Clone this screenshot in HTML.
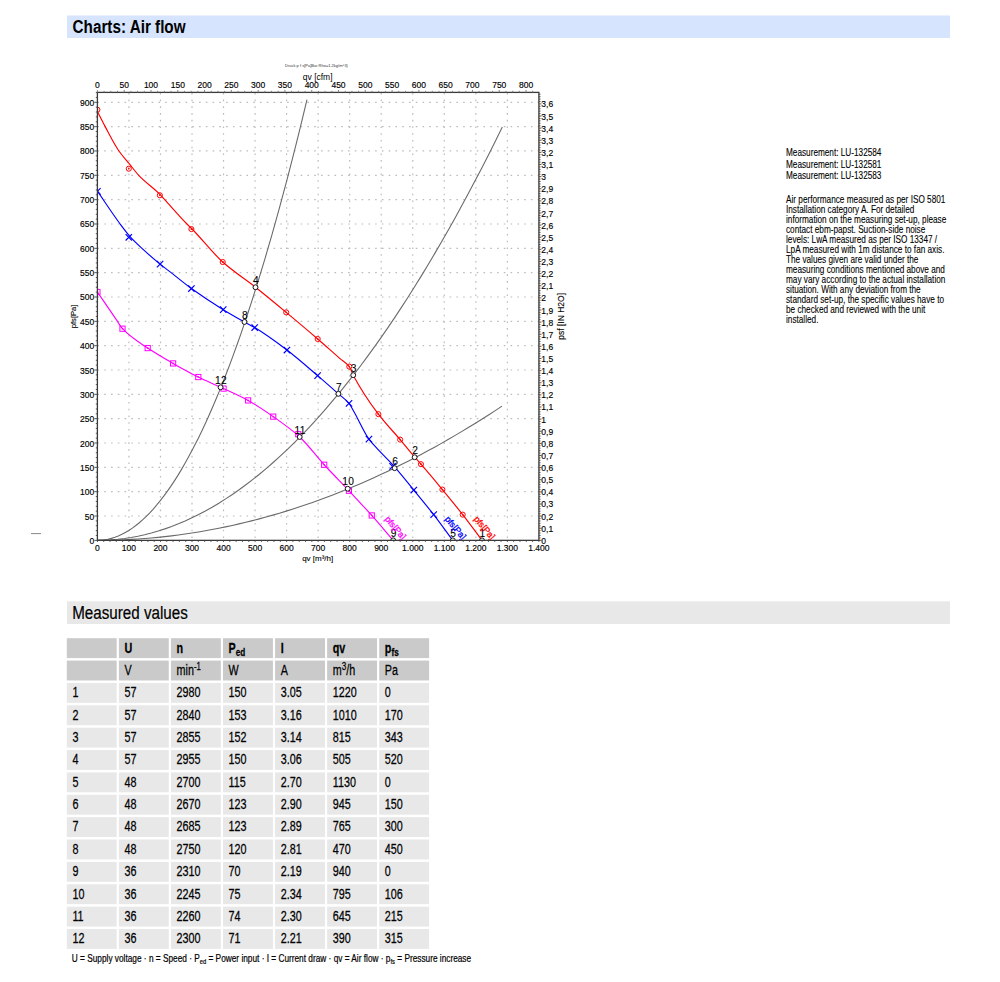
<!DOCTYPE html><html><head><meta charset="utf-8"><style>html,body{margin:0;padding:0;background:#fff;width:1000px;height:982px;overflow:hidden}svg{display:block}text{font-family:"Liberation Sans",sans-serif}</style></head><body>
<svg width="1000" height="982" viewBox="0 0 1000 982">
<rect x="67" y="15.5" width="883" height="22.5" fill="#d6e4fd"/>
<text transform="translate(72.6,32.8) scale(0.803,1)" font-size="19" font-weight="bold" fill="#000">Charts: Air flow</text>
<defs><clipPath id="pc"><rect x="97.4" y="92.4" width="441.5" height="447.95"/></clipPath></defs>
<g stroke="#bcbcbc" stroke-width="1.2" stroke-dasharray="1.6 5.172"><line x1="97.48" y1="516.01" x2="538.90" y2="516.01"/><line x1="97.48" y1="491.68" x2="538.90" y2="491.68"/><line x1="97.48" y1="467.34" x2="538.90" y2="467.34"/><line x1="97.48" y1="443.01" x2="538.90" y2="443.01"/><line x1="97.48" y1="418.67" x2="538.90" y2="418.67"/><line x1="97.48" y1="394.33" x2="538.90" y2="394.33"/><line x1="97.48" y1="370.00" x2="538.90" y2="370.00"/><line x1="97.48" y1="345.66" x2="538.90" y2="345.66"/><line x1="97.48" y1="321.33" x2="538.90" y2="321.33"/><line x1="97.48" y1="296.99" x2="538.90" y2="296.99"/><line x1="97.48" y1="272.65" x2="538.90" y2="272.65"/><line x1="97.48" y1="248.32" x2="538.90" y2="248.32"/><line x1="97.48" y1="223.98" x2="538.90" y2="223.98"/><line x1="97.48" y1="199.64" x2="538.90" y2="199.64"/><line x1="97.48" y1="175.31" x2="538.90" y2="175.31"/><line x1="97.48" y1="150.97" x2="538.90" y2="150.97"/><line x1="97.48" y1="126.64" x2="538.90" y2="126.64"/><line x1="97.48" y1="102.30" x2="538.90" y2="102.30"/></g>
<g stroke="#bcbcbc" stroke-width="1.2" stroke-dasharray="1.6 5.12"><line x1="128.94" y1="92.9" x2="128.94" y2="540.35"/><line x1="160.47" y1="92.9" x2="160.47" y2="540.35"/><line x1="192.01" y1="92.9" x2="192.01" y2="540.35"/><line x1="223.54" y1="92.9" x2="223.54" y2="540.35"/><line x1="255.08" y1="92.9" x2="255.08" y2="540.35"/><line x1="286.61" y1="92.9" x2="286.61" y2="540.35"/><line x1="318.15" y1="92.9" x2="318.15" y2="540.35"/><line x1="349.69" y1="92.9" x2="349.69" y2="540.35"/><line x1="381.22" y1="92.9" x2="381.22" y2="540.35"/><line x1="412.76" y1="92.9" x2="412.76" y2="540.35"/><line x1="444.29" y1="92.9" x2="444.29" y2="540.35"/><line x1="475.83" y1="92.9" x2="475.83" y2="540.35"/><line x1="507.36" y1="92.9" x2="507.36" y2="540.35"/></g>
<g fill="none" stroke="#6a6a6a" stroke-width="1.1" clip-path="url(#pc)">
<path d="M97.40,540.35 L100.89,540.23 L104.39,539.86 L107.88,539.25 L111.37,538.39 L114.87,537.29 L118.36,535.94 L121.85,534.35 L125.34,532.52 L128.84,530.43 L132.33,528.11 L135.82,525.54 L139.32,522.72 L142.81,519.66 L146.30,516.36 L149.80,512.81 L153.29,509.01 L156.78,504.97 L160.28,500.69 L163.77,496.16 L167.26,491.38 L170.76,486.36 L174.25,481.10 L177.74,475.59 L181.23,469.84 L184.73,463.84 L188.22,457.59 L191.71,451.11 L195.21,444.37 L198.70,437.39 L202.19,430.17 L205.69,422.70 L209.18,414.99 L212.67,407.03 L216.17,398.83 L219.66,390.39 L223.15,381.69 L226.64,372.76 L230.14,363.58 L233.63,354.15 L237.12,344.48 L240.62,334.56 L244.11,324.40 L247.60,313.99 L251.10,303.34 L254.59,292.45 L258.08,281.31 L261.58,269.92 L265.07,258.29 L268.56,246.42 L272.06,234.30 L275.55,221.93 L279.04,209.33 L282.53,196.47 L286.03,183.37 L289.52,170.03 L293.01,156.44 L296.51,142.61 L300.00,128.53 L303.49,114.21 L306.99,99.64"/>
<path d="M97.40,540.35 L104.15,540.24 L110.90,539.89 L117.65,539.32 L124.39,538.51 L131.14,537.48 L137.89,536.22 L144.64,534.73 L151.39,533.00 L158.14,531.05 L164.89,528.87 L171.64,526.46 L178.38,523.82 L185.13,520.95 L191.88,517.85 L198.63,514.52 L205.38,510.96 L212.13,507.17 L218.88,503.16 L225.62,498.91 L232.37,494.43 L239.12,489.73 L245.87,484.79 L252.62,479.62 L259.37,474.23 L266.12,468.60 L272.86,462.75 L279.61,456.67 L286.36,450.35 L293.11,443.81 L299.86,437.04 L306.61,430.03 L313.36,422.80 L320.11,415.34 L326.85,407.65 L333.60,399.73 L340.35,391.58 L347.10,383.20 L353.85,374.59 L360.60,365.75 L367.35,356.68 L374.09,347.38 L380.84,337.85 L387.59,328.10 L394.34,318.11 L401.09,307.89 L407.84,297.45 L414.59,286.77 L421.33,275.87 L428.08,264.73 L434.83,253.37 L441.58,241.77 L448.33,229.95 L455.08,217.90 L461.83,205.61 L468.58,193.10 L475.32,180.36 L482.07,167.39 L488.82,154.19 L495.57,140.76 L502.32,127.09"/>
<path d="M97.40,540.35 L104.14,540.31 L110.89,540.20 L117.63,540.01 L124.37,539.75 L131.12,539.42 L137.86,539.01 L144.60,538.52 L151.35,537.96 L158.09,537.33 L164.83,536.62 L171.58,535.84 L178.32,534.98 L185.06,534.05 L191.81,533.04 L198.55,531.96 L205.29,530.81 L212.04,529.58 L218.78,528.27 L225.52,526.89 L232.27,525.44 L239.01,523.91 L245.75,522.31 L252.50,520.63 L259.24,518.88 L265.98,517.05 L272.73,515.15 L279.47,513.17 L286.21,511.12 L292.96,509.00 L299.70,506.80 L306.44,504.53 L313.19,502.18 L319.93,499.75 L326.68,497.26 L333.42,494.69 L340.16,492.04 L346.91,489.32 L353.65,486.52 L360.39,483.65 L367.14,480.71 L373.88,477.69 L380.62,474.59 L387.37,471.42 L394.11,468.18 L400.85,464.86 L407.60,461.47 L414.34,458.00 L421.08,454.46 L427.83,450.85 L434.57,447.16 L441.31,443.39 L448.06,439.55 L454.80,435.64 L461.54,431.65 L468.29,427.59 L475.03,423.45 L481.77,419.24 L488.52,414.95 L495.26,410.59 L502.00,406.15"/>
</g>
<g clip-path="url(#pc)" fill="none" stroke-width="1.15">
<path d="M97.40,111.55 C100.00,116.58 102.59,121.81 105.19,126.64 C109.76,135.14 114.33,144.37 118.91,150.97 C122.46,156.10 126.01,159.75 129.57,164.11 C132.61,167.86 135.66,172.08 138.71,175.31 C145.75,182.76 152.80,187.19 159.84,194.29 C161.40,195.86 162.95,197.70 164.51,199.40 C171.99,207.60 179.48,216.35 186.96,223.98 C188.51,225.56 190.05,226.94 191.60,228.51 C201.97,239.01 212.35,252.71 222.72,262.04 C233.64,271.86 244.57,278.59 255.49,287.25 C265.73,295.37 275.97,303.86 286.20,312.37 C296.71,321.10 307.21,329.93 317.71,338.99 C325.13,345.39 332.55,352.12 339.97,358.56 C343.08,361.26 346.20,362.50 349.31,366.59 C350.61,368.30 351.91,372.69 353.22,375.16 C361.61,391.04 369.99,403.00 378.38,414.14 C385.64,423.78 392.89,430.99 400.14,439.60 C405.03,445.40 409.92,451.54 414.81,457.22 C416.86,459.60 418.91,461.82 420.96,464.18 C428.10,472.41 435.25,480.89 442.40,489.54 C449.17,497.72 455.94,505.97 462.71,514.65 C469.14,522.90 475.58,531.78 482.01,540.35" stroke="#ff0000"/>
<path d="M97.40,191.13 C104.97,202.08 112.54,213.86 120.11,223.98 C123.57,228.62 127.04,233.28 130.51,237.12 C134.34,241.36 138.17,244.87 141.99,248.41 C148.03,254.01 154.06,259.22 160.09,264.14 C163.76,267.12 167.43,269.80 171.10,272.65 C177.86,277.91 184.62,283.64 191.38,288.52 C201.99,296.19 212.61,303.11 223.23,309.64 C230.31,314.01 237.40,317.98 244.48,321.96 C247.89,323.87 251.29,325.51 254.70,327.56 C265.44,334.01 276.19,341.87 286.93,350.04 C297.16,357.82 307.39,366.89 317.61,375.64 C324.54,381.57 331.47,387.69 338.40,393.85 C341.93,396.99 345.46,399.09 348.99,403.39 C350.38,405.07 351.77,407.87 353.15,410.25 C358.41,419.28 363.67,431.86 368.92,439.11 C372.08,443.46 375.23,446.48 378.38,449.92 C383.27,455.25 388.16,459.68 393.05,465.10 C399.96,472.77 406.88,481.64 413.80,490.07 C420.43,498.16 427.06,506.09 433.70,514.65 C440.04,522.84 446.37,531.78 452.71,540.35" stroke="#0000ff"/>
<path d="M97.40,291.98 C103.71,301.21 110.01,310.43 116.32,319.67 C118.38,322.69 120.44,326.51 122.50,328.72 C130.90,337.76 139.30,342.41 147.70,348.09 C156.16,353.82 164.62,358.60 173.09,363.43 C181.50,368.22 189.90,372.89 198.31,377.05 C205.74,380.73 213.16,383.80 220.58,387.28 C229.76,391.57 238.93,395.37 248.11,400.42 C256.48,405.02 264.84,410.76 273.21,416.63 C282.04,422.82 290.87,428.86 299.70,436.97 C307.87,444.47 316.04,455.84 324.20,464.76 C332.44,473.75 340.67,481.98 348.90,490.75 C356.52,498.88 364.14,506.90 371.76,515.43 C378.91,523.43 386.06,532.04 393.21,540.35" stroke="#ff00ff"/>
<circle cx="97.40" cy="109.70" r="2.55" stroke="#ff0000" stroke-width="1" fill="none"/><circle cx="97.40" cy="109.70" r="0.85" fill="#ff0000" stroke="none"/><circle cx="128.81" cy="168.69" r="2.55" stroke="#ff0000" stroke-width="1" fill="none"/><circle cx="128.81" cy="168.69" r="0.85" fill="#ff0000" stroke="none"/><circle cx="159.84" cy="195.26" r="2.55" stroke="#ff0000" stroke-width="1" fill="none"/><circle cx="159.84" cy="195.26" r="0.85" fill="#ff0000" stroke="none"/><circle cx="191.38" cy="229.09" r="2.55" stroke="#ff0000" stroke-width="1" fill="none"/><circle cx="191.38" cy="229.09" r="0.85" fill="#ff0000" stroke="none"/><circle cx="222.72" cy="262.04" r="2.55" stroke="#ff0000" stroke-width="1" fill="none"/><circle cx="222.72" cy="262.04" r="0.85" fill="#ff0000" stroke="none"/><circle cx="286.20" cy="312.37" r="2.55" stroke="#ff0000" stroke-width="1" fill="none"/><circle cx="286.20" cy="312.37" r="0.85" fill="#ff0000" stroke="none"/><circle cx="317.71" cy="338.99" r="2.55" stroke="#ff0000" stroke-width="1" fill="none"/><circle cx="317.71" cy="338.99" r="0.85" fill="#ff0000" stroke="none"/><circle cx="349.31" cy="366.59" r="2.55" stroke="#ff0000" stroke-width="1" fill="none"/><circle cx="349.31" cy="366.59" r="0.85" fill="#ff0000" stroke="none"/><circle cx="378.38" cy="414.14" r="2.55" stroke="#ff0000" stroke-width="1" fill="none"/><circle cx="378.38" cy="414.14" r="0.85" fill="#ff0000" stroke="none"/><circle cx="400.14" cy="439.60" r="2.55" stroke="#ff0000" stroke-width="1" fill="none"/><circle cx="400.14" cy="439.60" r="0.85" fill="#ff0000" stroke="none"/><circle cx="420.96" cy="464.18" r="2.55" stroke="#ff0000" stroke-width="1" fill="none"/><circle cx="420.96" cy="464.18" r="0.85" fill="#ff0000" stroke="none"/><circle cx="442.40" cy="489.54" r="2.55" stroke="#ff0000" stroke-width="1" fill="none"/><circle cx="442.40" cy="489.54" r="0.85" fill="#ff0000" stroke="none"/><circle cx="462.71" cy="514.65" r="2.55" stroke="#ff0000" stroke-width="1" fill="none"/><circle cx="462.71" cy="514.65" r="0.85" fill="#ff0000" stroke="none"/><path d="M94.20,194.57L100.60,188.17M94.20,188.17L100.60,194.57" stroke="#0000ff" stroke-width="1.2"/><path d="M125.61,240.47L132.01,234.07M125.61,234.07L132.01,240.47" stroke="#0000ff" stroke-width="1.2"/><path d="M156.89,267.34L163.29,260.94M156.89,260.94L163.29,267.34" stroke="#0000ff" stroke-width="1.2"/><path d="M188.18,291.72L194.58,285.32M188.18,285.32L194.58,291.72" stroke="#0000ff" stroke-width="1.2"/><path d="M220.03,312.84L226.43,306.44M220.03,306.44L226.43,312.84" stroke="#0000ff" stroke-width="1.2"/><path d="M251.50,330.76L257.90,324.36M251.50,324.36L257.90,330.76" stroke="#0000ff" stroke-width="1.2"/><path d="M283.73,353.24L290.13,346.84M283.73,346.84L290.13,353.24" stroke="#0000ff" stroke-width="1.2"/><path d="M314.41,378.84L320.81,372.44M314.41,372.44L320.81,378.84" stroke="#0000ff" stroke-width="1.2"/><path d="M345.79,406.59L352.19,400.19M345.79,400.19L352.19,406.59" stroke="#0000ff" stroke-width="1.2"/><path d="M365.72,442.31L372.12,435.91M365.72,435.91L372.12,442.31" stroke="#0000ff" stroke-width="1.2"/><path d="M389.37,469.57L395.77,463.17M389.37,463.17L395.77,469.57" stroke="#0000ff" stroke-width="1.2"/><path d="M410.60,493.27L417.00,486.87M410.60,486.87L417.00,493.27" stroke="#0000ff" stroke-width="1.2"/><path d="M430.50,517.85L436.90,511.45M430.50,511.45L436.90,517.85" stroke="#0000ff" stroke-width="1.2"/><rect x="94.80" y="289.38" width="5.2" height="5.2" stroke="#ff00ff" stroke-width="1" fill="none"/><circle cx="97.40" cy="291.98" r="0.85" fill="#ff00ff" stroke="none"/><rect x="119.90" y="326.12" width="5.2" height="5.2" stroke="#ff00ff" stroke-width="1" fill="none"/><circle cx="122.50" cy="328.72" r="0.85" fill="#ff00ff" stroke="none"/><rect x="145.10" y="345.49" width="5.2" height="5.2" stroke="#ff00ff" stroke-width="1" fill="none"/><circle cx="147.70" cy="348.09" r="0.85" fill="#ff00ff" stroke="none"/><rect x="170.49" y="360.83" width="5.2" height="5.2" stroke="#ff00ff" stroke-width="1" fill="none"/><circle cx="173.09" cy="363.43" r="0.85" fill="#ff00ff" stroke="none"/><rect x="195.71" y="374.45" width="5.2" height="5.2" stroke="#ff00ff" stroke-width="1" fill="none"/><circle cx="198.31" cy="377.05" r="0.85" fill="#ff00ff" stroke="none"/><rect x="220.94" y="385.99" width="5.2" height="5.2" stroke="#ff00ff" stroke-width="1" fill="none"/><circle cx="223.54" cy="388.59" r="0.85" fill="#ff00ff" stroke="none"/><rect x="245.51" y="397.82" width="5.2" height="5.2" stroke="#ff00ff" stroke-width="1" fill="none"/><circle cx="248.11" cy="400.42" r="0.85" fill="#ff00ff" stroke="none"/><rect x="270.61" y="414.03" width="5.2" height="5.2" stroke="#ff00ff" stroke-width="1" fill="none"/><circle cx="273.21" cy="416.63" r="0.85" fill="#ff00ff" stroke="none"/><rect x="295.68" y="431.64" width="5.2" height="5.2" stroke="#ff00ff" stroke-width="1" fill="none"/><circle cx="298.28" cy="434.24" r="0.85" fill="#ff00ff" stroke="none"/><rect x="321.60" y="462.16" width="5.2" height="5.2" stroke="#ff00ff" stroke-width="1" fill="none"/><circle cx="324.20" cy="464.76" r="0.85" fill="#ff00ff" stroke="none"/><rect x="346.30" y="488.15" width="5.2" height="5.2" stroke="#ff00ff" stroke-width="1" fill="none"/><circle cx="348.90" cy="490.75" r="0.85" fill="#ff00ff" stroke="none"/><rect x="369.16" y="512.83" width="5.2" height="5.2" stroke="#ff00ff" stroke-width="1" fill="none"/><circle cx="371.76" cy="515.43" r="0.85" fill="#ff00ff" stroke="none"/>
<circle cx="482.01" cy="540.35" r="2.45" stroke="#111" stroke-width="1.0" fill="#fff"/>
<circle cx="414.65" cy="457.22" r="2.45" stroke="#111" stroke-width="1.0" fill="#fff"/>
<circle cx="353.22" cy="375.16" r="2.45" stroke="#111" stroke-width="1.0" fill="#fff"/>
<circle cx="255.49" cy="287.25" r="2.45" stroke="#111" stroke-width="1.0" fill="#fff"/>
<circle cx="452.81" cy="540.35" r="2.45" stroke="#111" stroke-width="1.0" fill="#fff"/>
<circle cx="394.62" cy="468.17" r="2.45" stroke="#111" stroke-width="1.0" fill="#fff"/>
<circle cx="338.40" cy="393.85" r="2.45" stroke="#111" stroke-width="1.0" fill="#fff"/>
<circle cx="244.48" cy="321.96" r="2.45" stroke="#111" stroke-width="1.0" fill="#fff"/>
<circle cx="393.21" cy="540.35" r="2.45" stroke="#111" stroke-width="1.0" fill="#fff"/>
<circle cx="347.70" cy="488.76" r="2.45" stroke="#111" stroke-width="1.0" fill="#fff"/>
<circle cx="299.70" cy="436.97" r="2.45" stroke="#111" stroke-width="1.0" fill="#fff"/>
<circle cx="220.58" cy="387.28" r="2.45" stroke="#111" stroke-width="1.0" fill="#fff"/>
</g>
<text x="482.51" y="537.05" font-size="10.2" letter-spacing="0.3" text-anchor="middle" fill="#000" stroke="#000" stroke-width="0.1">1</text>
<text x="415.15" y="453.92" font-size="10.2" letter-spacing="0.3" text-anchor="middle" fill="#000" stroke="#000" stroke-width="0.1">2</text>
<text x="353.72" y="371.86" font-size="10.2" letter-spacing="0.3" text-anchor="middle" fill="#000" stroke="#000" stroke-width="0.1">3</text>
<text x="255.99" y="283.95" font-size="10.2" letter-spacing="0.3" text-anchor="middle" fill="#000" stroke="#000" stroke-width="0.1">4</text>
<text x="453.31" y="537.05" font-size="10.2" letter-spacing="0.3" text-anchor="middle" fill="#000" stroke="#000" stroke-width="0.1">5</text>
<text x="395.12" y="464.87" font-size="10.2" letter-spacing="0.3" text-anchor="middle" fill="#000" stroke="#000" stroke-width="0.1">6</text>
<text x="338.90" y="390.55" font-size="10.2" letter-spacing="0.3" text-anchor="middle" fill="#000" stroke="#000" stroke-width="0.1">7</text>
<text x="244.98" y="318.66" font-size="10.2" letter-spacing="0.3" text-anchor="middle" fill="#000" stroke="#000" stroke-width="0.1">8</text>
<text x="393.71" y="537.05" font-size="10.2" letter-spacing="0.3" text-anchor="middle" fill="#000" stroke="#000" stroke-width="0.1">9</text>
<text x="348.20" y="485.46" font-size="10.2" letter-spacing="0.3" text-anchor="middle" fill="#000" stroke="#000" stroke-width="0.1">10</text>
<text x="300.20" y="433.67" font-size="10.2" letter-spacing="0.3" text-anchor="middle" fill="#000" stroke="#000" stroke-width="0.1">11</text>
<text x="221.08" y="383.98" font-size="10.2" letter-spacing="0.3" text-anchor="middle" fill="#000" stroke="#000" stroke-width="0.1">12</text>
<text transform="translate(484.5,527.8) rotate(50)" font-size="8.8" text-anchor="middle" dominant-baseline="central" fill="#ff0000" stroke="#ff0000" stroke-width="0.3">pfs[Pa]</text>
<text transform="translate(455.5,527.8) rotate(50)" font-size="8.8" text-anchor="middle" dominant-baseline="central" fill="#0000ff" stroke="#0000ff" stroke-width="0.3">pfs[Pa]</text>
<text transform="translate(395.5,527.8) rotate(50)" font-size="8.8" text-anchor="middle" dominant-baseline="central" fill="#ff00ff" stroke="#ff00ff" stroke-width="0.3">pfs[Pa]</text>
<g stroke="#3a3a3a" stroke-width="1.3" fill="none"><rect x="97.4" y="92.4" width="441.50" height="447.95"/></g>
<path d="M94.40,540.35H97.4M95.80,535.48H97.4M95.80,530.62H97.4M95.80,525.75H97.4M95.80,520.88H97.4M94.40,516.01H97.4M95.80,511.15H97.4M95.80,506.28H97.4M95.80,501.41H97.4M95.80,496.55H97.4M94.40,491.68H97.4M95.80,486.81H97.4M95.80,481.94H97.4M95.80,477.08H97.4M95.80,472.21H97.4M94.40,467.34H97.4M95.80,462.47H97.4M95.80,457.61H97.4M95.80,452.74H97.4M95.80,447.87H97.4M94.40,443.01H97.4M95.80,438.14H97.4M95.80,433.27H97.4M95.80,428.40H97.4M95.80,423.54H97.4M94.40,418.67H97.4M95.80,413.80H97.4M95.80,408.94H97.4M95.80,404.07H97.4M95.80,399.20H97.4M94.40,394.33H97.4M95.80,389.47H97.4M95.80,384.60H97.4M95.80,379.73H97.4M95.80,374.86H97.4M94.40,370.00H97.4M95.80,365.13H97.4M95.80,360.26H97.4M95.80,355.40H97.4M95.80,350.53H97.4M94.40,345.66H97.4M95.80,340.79H97.4M95.80,335.93H97.4M95.80,331.06H97.4M95.80,326.19H97.4M94.40,321.33H97.4M95.80,316.46H97.4M95.80,311.59H97.4M95.80,306.72H97.4M95.80,301.86H97.4M94.40,296.99H97.4M95.80,292.12H97.4M95.80,287.25H97.4M95.80,282.39H97.4M95.80,277.52H97.4M94.40,272.65H97.4M95.80,267.79H97.4M95.80,262.92H97.4M95.80,258.05H97.4M95.80,253.18H97.4M94.40,248.32H97.4M95.80,243.45H97.4M95.80,238.58H97.4M95.80,233.72H97.4M95.80,228.85H97.4M94.40,223.98H97.4M95.80,219.11H97.4M95.80,214.25H97.4M95.80,209.38H97.4M95.80,204.51H97.4M94.40,199.64H97.4M95.80,194.78H97.4M95.80,189.91H97.4M95.80,185.04H97.4M95.80,180.18H97.4M94.40,175.31H97.4M95.80,170.44H97.4M95.80,165.57H97.4M95.80,160.71H97.4M95.80,155.84H97.4M94.40,150.97H97.4M95.80,146.11H97.4M95.80,141.24H97.4M95.80,136.37H97.4M95.80,131.50H97.4M94.40,126.64H97.4M95.80,121.77H97.4M95.80,116.90H97.4M95.80,112.03H97.4M95.80,107.17H97.4M94.40,102.30H97.4M95.80,97.43H97.4M95.80,92.57H97.4M97.40,540.35V541.95M103.71,540.35V541.95M110.01,540.35V541.95M116.32,540.35V541.95M122.63,540.35V541.95M128.94,540.35V541.95M135.24,540.35V541.95M141.55,540.35V541.95M147.86,540.35V541.95M154.16,540.35V541.95M160.47,540.35V541.95M166.78,540.35V541.95M173.09,540.35V541.95M179.39,540.35V541.95M185.70,540.35V541.95M192.01,540.35V541.95M198.31,540.35V541.95M204.62,540.35V541.95M210.93,540.35V541.95M217.24,540.35V541.95M223.54,540.35V541.95M229.85,540.35V541.95M236.16,540.35V541.95M242.46,540.35V541.95M248.77,540.35V541.95M255.08,540.35V541.95M261.39,540.35V541.95M267.69,540.35V541.95M274.00,540.35V541.95M280.31,540.35V541.95M286.61,540.35V541.95M292.92,540.35V541.95M299.23,540.35V541.95M305.54,540.35V541.95M311.84,540.35V541.95M318.15,540.35V541.95M324.46,540.35V541.95M330.76,540.35V541.95M337.07,540.35V541.95M343.38,540.35V541.95M349.69,540.35V541.95M355.99,540.35V541.95M362.30,540.35V541.95M368.61,540.35V541.95M374.91,540.35V541.95M381.22,540.35V541.95M387.53,540.35V541.95M393.84,540.35V541.95M400.14,540.35V541.95M406.45,540.35V541.95M412.76,540.35V541.95M419.06,540.35V541.95M425.37,540.35V541.95M431.68,540.35V541.95M437.99,540.35V541.95M444.29,540.35V541.95M450.60,540.35V541.95M456.91,540.35V541.95M463.21,540.35V541.95M469.52,540.35V541.95M475.83,540.35V541.95M482.14,540.35V541.95M488.44,540.35V541.95M494.75,540.35V541.95M501.06,540.35V541.95M507.36,540.35V541.95M513.67,540.35V541.95M519.98,540.35V541.95M526.29,540.35V541.95M532.59,540.35V541.95M538.90,540.35V541.95" stroke="#444" stroke-width="0.9"/>
<path d="M97.40,92.40V89.90M104.10,92.40V90.80M110.79,92.40V90.80M117.49,92.40V90.80M124.19,92.40V89.90M130.89,92.40V90.80M137.58,92.40V90.80M144.28,92.40V90.80M150.98,92.40V89.90M157.68,92.40V90.80M164.37,92.40V90.80M171.07,92.40V90.80M177.77,92.40V89.90M184.47,92.40V90.80M191.16,92.40V90.80M197.86,92.40V90.80M204.56,92.40V89.90M211.26,92.40V90.80M217.95,92.40V90.80M224.65,92.40V90.80M231.35,92.40V89.90M238.05,92.40V90.80M244.74,92.40V90.80M251.44,92.40V90.80M258.14,92.40V89.90M264.84,92.40V90.80M271.53,92.40V90.80M278.23,92.40V90.80M284.93,92.40V89.90M291.63,92.40V90.80M298.32,92.40V90.80M305.02,92.40V90.80M311.72,92.40V89.90M318.42,92.40V90.80M325.11,92.40V90.80M331.81,92.40V90.80M338.51,92.40V89.90M345.21,92.40V90.80M351.90,92.40V90.80M358.60,92.40V90.80M365.30,92.40V89.90M372.00,92.40V90.80M378.69,92.40V90.80M385.39,92.40V90.80M392.09,92.40V89.90M398.78,92.40V90.80M405.48,92.40V90.80M412.18,92.40V90.80M418.88,92.40V89.90M425.57,92.40V90.80M432.27,92.40V90.80M438.97,92.40V90.80M445.67,92.40V89.90M452.36,92.40V90.80M459.06,92.40V90.80M465.76,92.40V90.80M472.46,92.40V89.90M479.15,92.40V90.80M485.85,92.40V90.80M492.55,92.40V90.80M499.25,92.40V89.90M505.94,92.40V90.80M512.64,92.40V90.80M519.34,92.40V90.80M526.04,92.40V89.90M532.73,92.40V90.80" stroke="#777" stroke-width="0.9"/>
<path d="M538.90,540.35H541.40M538.90,537.93H540.50M538.90,535.50H540.50M538.90,533.08H540.50M538.90,530.65H540.50M538.90,528.23H541.40M538.90,525.80H540.50M538.90,523.38H540.50M538.90,520.95H540.50M538.90,518.53H540.50M538.90,516.10H541.40M538.90,513.68H540.50M538.90,511.25H540.50M538.90,508.83H540.50M538.90,506.40H540.50M538.90,503.98H541.40M538.90,501.55H540.50M538.90,499.13H540.50M538.90,496.70H540.50M538.90,494.28H540.50M538.90,491.86H541.40M538.90,489.43H540.50M538.90,487.01H540.50M538.90,484.58H540.50M538.90,482.16H540.50M538.90,479.73H541.40M538.90,477.31H540.50M538.90,474.88H540.50M538.90,472.46H540.50M538.90,470.03H540.50M538.90,467.61H541.40M538.90,465.18H540.50M538.90,462.76H540.50M538.90,460.33H540.50M538.90,457.91H540.50M538.90,455.48H541.40M538.90,453.06H540.50M538.90,450.63H540.50M538.90,448.21H540.50M538.90,445.79H540.50M538.90,443.36H541.40M538.90,440.94H540.50M538.90,438.51H540.50M538.90,436.09H540.50M538.90,433.66H540.50M538.90,431.24H541.40M538.90,428.81H540.50M538.90,426.39H540.50M538.90,423.96H540.50M538.90,421.54H540.50M538.90,419.11H541.40M538.90,416.69H540.50M538.90,414.26H540.50M538.90,411.84H540.50M538.90,409.41H540.50M538.90,406.99H541.40M538.90,404.56H540.50M538.90,402.14H540.50M538.90,399.71H540.50M538.90,397.29H540.50M538.90,394.87H541.40M538.90,392.44H540.50M538.90,390.02H540.50M538.90,387.59H540.50M538.90,385.17H540.50M538.90,382.74H541.40M538.90,380.32H540.50M538.90,377.89H540.50M538.90,375.47H540.50M538.90,373.04H540.50M538.90,370.62H541.40M538.90,368.19H540.50M538.90,365.77H540.50M538.90,363.34H540.50M538.90,360.92H540.50M538.90,358.49H541.40M538.90,356.07H540.50M538.90,353.64H540.50M538.90,351.22H540.50M538.90,348.80H540.50M538.90,346.37H541.40M538.90,343.95H540.50M538.90,341.52H540.50M538.90,339.10H540.50M538.90,336.67H540.50M538.90,334.25H541.40M538.90,331.82H540.50M538.90,329.40H540.50M538.90,326.97H540.50M538.90,324.55H540.50M538.90,322.12H541.40M538.90,319.70H540.50M538.90,317.27H540.50M538.90,314.85H540.50M538.90,312.42H540.50M538.90,310.00H541.40M538.90,307.57H540.50M538.90,305.15H540.50M538.90,302.73H540.50M538.90,300.30H540.50M538.90,297.88H541.40M538.90,295.45H540.50M538.90,293.03H540.50M538.90,290.60H540.50M538.90,288.18H540.50M538.90,285.75H541.40M538.90,283.33H540.50M538.90,280.90H540.50M538.90,278.48H540.50M538.90,276.05H540.50M538.90,273.63H541.40M538.90,271.20H540.50M538.90,268.78H540.50M538.90,266.35H540.50M538.90,263.93H540.50M538.90,261.50H541.40M538.90,259.08H540.50M538.90,256.66H540.50M538.90,254.23H540.50M538.90,251.81H540.50M538.90,249.38H541.40M538.90,246.96H540.50M538.90,244.53H540.50M538.90,242.11H540.50M538.90,239.68H540.50M538.90,237.26H541.40M538.90,234.83H540.50M538.90,232.41H540.50M538.90,229.98H540.50M538.90,227.56H540.50M538.90,225.13H541.40M538.90,222.71H540.50M538.90,220.28H540.50M538.90,217.86H540.50M538.90,215.43H540.50M538.90,213.01H541.40M538.90,210.58H540.50M538.90,208.16H540.50M538.90,205.74H540.50M538.90,203.31H540.50M538.90,200.89H541.40M538.90,198.46H540.50M538.90,196.04H540.50M538.90,193.61H540.50M538.90,191.19H540.50M538.90,188.76H541.40M538.90,186.34H540.50M538.90,183.91H540.50M538.90,181.49H540.50M538.90,179.06H540.50M538.90,176.64H541.40M538.90,174.21H540.50M538.90,171.79H540.50M538.90,169.36H540.50M538.90,166.94H540.50M538.90,164.51H541.40M538.90,162.09H540.50M538.90,159.67H540.50M538.90,157.24H540.50M538.90,154.82H540.50M538.90,152.39H541.40M538.90,149.97H540.50M538.90,147.54H540.50M538.90,145.12H540.50M538.90,142.69H540.50M538.90,140.27H541.40M538.90,137.84H540.50M538.90,135.42H540.50M538.90,132.99H540.50M538.90,130.57H540.50M538.90,128.14H541.40M538.90,125.72H540.50M538.90,123.29H540.50M538.90,120.87H540.50M538.90,118.44H540.50M538.90,116.02H541.40M538.90,113.60H540.50M538.90,111.17H540.50M538.90,108.75H540.50M538.90,106.32H540.50M538.90,103.90H541.40M538.90,101.47H540.50M538.90,99.05H540.50M538.90,96.62H540.50M538.90,94.20H540.50" stroke="#444" stroke-width="0.9"/>
<g font-size="8.5" fill="#000" stroke="#000" stroke-width="0.15"><text x="94.3" y="543.85" text-anchor="end">0</text><text x="94.3" y="519.51" text-anchor="end">50</text><text x="94.3" y="495.18" text-anchor="end">100</text><text x="94.3" y="470.84" text-anchor="end">150</text><text x="94.3" y="446.51" text-anchor="end">200</text><text x="94.3" y="422.17" text-anchor="end">250</text><text x="94.3" y="397.83" text-anchor="end">300</text><text x="94.3" y="373.50" text-anchor="end">350</text><text x="94.3" y="349.16" text-anchor="end">400</text><text x="94.3" y="324.83" text-anchor="end">450</text><text x="94.3" y="300.49" text-anchor="end">500</text><text x="94.3" y="276.15" text-anchor="end">550</text><text x="94.3" y="251.82" text-anchor="end">600</text><text x="94.3" y="227.48" text-anchor="end">650</text><text x="94.3" y="203.14" text-anchor="end">700</text><text x="94.3" y="178.81" text-anchor="end">750</text><text x="94.3" y="154.47" text-anchor="end">800</text><text x="94.3" y="130.14" text-anchor="end">850</text><text x="94.3" y="105.80" text-anchor="end">900</text><text x="97.40" y="551.15" text-anchor="middle">0</text><text x="128.94" y="551.15" text-anchor="middle">100</text><text x="160.47" y="551.15" text-anchor="middle">200</text><text x="192.01" y="551.15" text-anchor="middle">300</text><text x="223.54" y="551.15" text-anchor="middle">400</text><text x="255.08" y="551.15" text-anchor="middle">500</text><text x="286.61" y="551.15" text-anchor="middle">600</text><text x="318.15" y="551.15" text-anchor="middle">700</text><text x="349.69" y="551.15" text-anchor="middle">800</text><text x="381.22" y="551.15" text-anchor="middle">900</text><text x="412.76" y="551.15" text-anchor="middle">1.000</text><text x="444.29" y="551.15" text-anchor="middle">1.100</text><text x="475.83" y="551.15" text-anchor="middle">1.200</text><text x="507.36" y="551.15" text-anchor="middle">1.300</text><text x="538.90" y="551.15" text-anchor="middle">1.400</text><text x="97.40" y="88.20" text-anchor="middle">0</text><text x="124.19" y="88.20" text-anchor="middle">50</text><text x="150.98" y="88.20" text-anchor="middle">100</text><text x="177.77" y="88.20" text-anchor="middle">150</text><text x="204.56" y="88.20" text-anchor="middle">200</text><text x="231.35" y="88.20" text-anchor="middle">250</text><text x="258.14" y="88.20" text-anchor="middle">300</text><text x="284.93" y="88.20" text-anchor="middle">350</text><text x="311.72" y="88.20" text-anchor="middle">400</text><text x="338.51" y="88.20" text-anchor="middle">450</text><text x="365.30" y="88.20" text-anchor="middle">500</text><text x="392.09" y="88.20" text-anchor="middle">550</text><text x="418.88" y="88.20" text-anchor="middle">600</text><text x="445.67" y="88.20" text-anchor="middle">650</text><text x="472.46" y="88.20" text-anchor="middle">700</text><text x="499.25" y="88.20" text-anchor="middle">750</text><text x="526.04" y="88.20" text-anchor="middle">800</text><text x="541.3" y="543.85">0</text><text x="541.3" y="531.73">0,1</text><text x="541.3" y="519.60">0,2</text><text x="541.3" y="507.48">0,3</text><text x="541.3" y="495.36">0,4</text><text x="541.3" y="483.23">0,5</text><text x="541.3" y="471.11">0,6</text><text x="541.3" y="458.98">0,7</text><text x="541.3" y="446.86">0,8</text><text x="541.3" y="434.74">0,9</text><text x="541.3" y="422.61">1</text><text x="541.3" y="410.49">1,1</text><text x="541.3" y="398.37">1,2</text><text x="541.3" y="386.24">1,3</text><text x="541.3" y="374.12">1,4</text><text x="541.3" y="361.99">1,5</text><text x="541.3" y="349.87">1,6</text><text x="541.3" y="337.75">1,7</text><text x="541.3" y="325.62">1,8</text><text x="541.3" y="313.50">1,9</text><text x="541.3" y="301.38">2</text><text x="541.3" y="289.25">2,1</text><text x="541.3" y="277.13">2,2</text><text x="541.3" y="265.00">2,3</text><text x="541.3" y="252.88">2,4</text><text x="541.3" y="240.76">2,5</text><text x="541.3" y="228.63">2,6</text><text x="541.3" y="216.51">2,7</text><text x="541.3" y="204.39">2,8</text><text x="541.3" y="192.26">2,9</text><text x="541.3" y="180.14">3</text><text x="541.3" y="168.01">3,1</text><text x="541.3" y="155.89">3,2</text><text x="541.3" y="143.77">3,3</text><text x="541.3" y="131.64">3,4</text><text x="541.3" y="119.52">3,5</text><text x="541.3" y="107.40">3,6</text></g>
<text x="317.7" y="80" font-size="8.5" text-anchor="middle" fill="#000">qv [cfm]</text>
<text x="317.7" y="560.6" font-size="8" text-anchor="middle" fill="#000" stroke="#000" stroke-width="0.1">qv [m³/h]</text>
<text x="316.5" y="67" font-size="4" text-anchor="middle" fill="#333">Druck p f s[Pa]Bar Rho=1.2kg/m^3)</text>
<text transform="translate(75.6,316.4) rotate(-90)" font-size="7.6" text-anchor="middle" fill="#000" stroke="#000" stroke-width="0.12">pfs[Pa]</text>
<text transform="translate(564.4,316.4) rotate(-90)" font-size="8.5" text-anchor="middle" fill="#000" stroke="#000" stroke-width="0.12">psf [IN H2O]</text>
<line x1="31" y1="533.6" x2="41" y2="533.6" stroke="#888" stroke-width="1"/>
<text transform="translate(786,155.90) scale(0.823,1)" font-size="10" fill="#000" stroke="#000" stroke-width="0.1">Measurement: LU-132584</text>
<text transform="translate(786,167.50) scale(0.823,1)" font-size="10" fill="#000" stroke="#000" stroke-width="0.1">Measurement: LU-132581</text>
<text transform="translate(786,179.10) scale(0.823,1)" font-size="10" fill="#000" stroke="#000" stroke-width="0.1">Measurement: LU-132583</text>
<text transform="translate(786,203.20) scale(0.823,1)" font-size="10" fill="#000" stroke="#000" stroke-width="0.1">Air performance measured as per ISO 5801</text>
<text transform="translate(786,213.20) scale(0.823,1)" font-size="10" fill="#000" stroke="#000" stroke-width="0.1">Installation category A. For detailed</text>
<text transform="translate(786,223.20) scale(0.823,1)" font-size="10" fill="#000" stroke="#000" stroke-width="0.1">information on the measuring set-up, please</text>
<text transform="translate(786,233.20) scale(0.823,1)" font-size="10" fill="#000" stroke="#000" stroke-width="0.1">contact ebm-papst. Suction-side noise</text>
<text transform="translate(786,243.20) scale(0.823,1)" font-size="10" fill="#000" stroke="#000" stroke-width="0.1">levels: LwA measured as per ISO 13347 /</text>
<text transform="translate(786,253.20) scale(0.823,1)" font-size="10" fill="#000" stroke="#000" stroke-width="0.1">LpA measured with 1m distance to fan axis.</text>
<text transform="translate(786,263.20) scale(0.823,1)" font-size="10" fill="#000" stroke="#000" stroke-width="0.1">The values given are valid under the</text>
<text transform="translate(786,273.20) scale(0.823,1)" font-size="10" fill="#000" stroke="#000" stroke-width="0.1">measuring conditions mentioned above and</text>
<text transform="translate(786,283.20) scale(0.823,1)" font-size="10" fill="#000" stroke="#000" stroke-width="0.1">may vary according to the actual installation</text>
<text transform="translate(786,293.20) scale(0.823,1)" font-size="10" fill="#000" stroke="#000" stroke-width="0.1">situation. With any deviation from the</text>
<text transform="translate(786,303.20) scale(0.823,1)" font-size="10" fill="#000" stroke="#000" stroke-width="0.1">standard set-up, the specific values have to</text>
<text transform="translate(786,313.20) scale(0.823,1)" font-size="10" fill="#000" stroke="#000" stroke-width="0.1">be checked and reviewed with the unit</text>
<text transform="translate(786,323.20) scale(0.823,1)" font-size="10" fill="#000" stroke="#000" stroke-width="0.1">installed.</text>
<rect x="67" y="601.3" width="883" height="22.7" fill="#e8e8e8"/>
<text transform="translate(72.2,618.5) scale(0.83,1)" font-size="18.3" fill="#000" stroke="#000" stroke-width="0.2">Measured values</text>
<rect x="66.80" y="638.20" width="49.9" height="19.9" fill="#cacaca"/>
<rect x="118.87" y="638.20" width="49.9" height="19.9" fill="#cacaca"/>
<rect x="170.94" y="638.20" width="49.9" height="19.9" fill="#cacaca"/>
<rect x="223.01" y="638.20" width="49.9" height="19.9" fill="#cacaca"/>
<rect x="275.08" y="638.20" width="49.9" height="19.9" fill="#cacaca"/>
<rect x="327.15" y="638.20" width="49.9" height="19.9" fill="#cacaca"/>
<rect x="379.22" y="638.20" width="49.9" height="19.9" fill="#cacaca"/>
<text transform="translate(124.47,652.50) scale(0.744,1)" font-size="14.5" font-weight="bold" fill="#000" stroke="#000" stroke-width="0.25">U</text>
<text transform="translate(176.54,652.50) scale(0.744,1)" font-size="14.5" font-weight="bold" fill="#000" stroke="#000" stroke-width="0.25">n</text>
<text transform="translate(228.61,652.50) scale(0.744,1)" font-size="14.5" font-weight="bold" fill="#000" stroke="#000" stroke-width="0.25">P<tspan font-size='11' dy='3.2'>ed</tspan></text>
<text transform="translate(280.68,652.50) scale(0.744,1)" font-size="14.5" font-weight="bold" fill="#000" stroke="#000" stroke-width="0.25">I</text>
<text transform="translate(332.75,652.50) scale(0.744,1)" font-size="14.5" font-weight="bold" fill="#000" stroke="#000" stroke-width="0.25">qv</text>
<text transform="translate(384.82,652.50) scale(0.744,1)" font-size="14.5" font-weight="bold" fill="#000" stroke="#000" stroke-width="0.25">p<tspan font-size='11' dy='3.2'>fs</tspan></text>
<rect x="66.80" y="660.57" width="49.9" height="19.9" fill="#cacaca"/>
<rect x="118.87" y="660.57" width="49.9" height="19.9" fill="#cacaca"/>
<rect x="170.94" y="660.57" width="49.9" height="19.9" fill="#cacaca"/>
<rect x="223.01" y="660.57" width="49.9" height="19.9" fill="#cacaca"/>
<rect x="275.08" y="660.57" width="49.9" height="19.9" fill="#cacaca"/>
<rect x="327.15" y="660.57" width="49.9" height="19.9" fill="#cacaca"/>
<rect x="379.22" y="660.57" width="49.9" height="19.9" fill="#cacaca"/>
<text transform="translate(124.47,674.87) scale(0.744,1)" font-size="14.5" fill="#000" stroke="#000" stroke-width="0.25">V</text>
<text transform="translate(176.54,674.87) scale(0.744,1)" font-size="14.5" fill="#000" stroke="#000" stroke-width="0.25">min<tspan font-size='10.5' dy='-4.5'>-1</tspan></text>
<text transform="translate(228.61,674.87) scale(0.744,1)" font-size="14.5" fill="#000" stroke="#000" stroke-width="0.25">W</text>
<text transform="translate(280.68,674.87) scale(0.744,1)" font-size="14.5" fill="#000" stroke="#000" stroke-width="0.25">A</text>
<text transform="translate(332.75,674.87) scale(0.744,1)" font-size="14.5" fill="#000" stroke="#000" stroke-width="0.25">m<tspan font-size='11' dy='-5'>3</tspan><tspan dy='5'>/h</tspan></text>
<text transform="translate(384.82,674.87) scale(0.744,1)" font-size="14.5" fill="#000" stroke="#000" stroke-width="0.25">Pa</text>
<rect x="66.80" y="682.94" width="49.9" height="19.9" fill="#e8e8e8"/>
<rect x="118.87" y="682.94" width="49.9" height="19.9" fill="#e8e8e8"/>
<rect x="170.94" y="682.94" width="49.9" height="19.9" fill="#e8e8e8"/>
<rect x="223.01" y="682.94" width="49.9" height="19.9" fill="#e8e8e8"/>
<rect x="275.08" y="682.94" width="49.9" height="19.9" fill="#e8e8e8"/>
<rect x="327.15" y="682.94" width="49.9" height="19.9" fill="#e8e8e8"/>
<rect x="379.22" y="682.94" width="49.9" height="19.9" fill="#e8e8e8"/>
<text transform="translate(72.40,697.24) scale(0.744,1)" font-size="14.5" fill="#000" stroke="#000" stroke-width="0.25">1</text>
<text transform="translate(124.47,697.24) scale(0.744,1)" font-size="14.5" fill="#000" stroke="#000" stroke-width="0.25">57</text>
<text transform="translate(176.54,697.24) scale(0.744,1)" font-size="14.5" fill="#000" stroke="#000" stroke-width="0.25">2980</text>
<text transform="translate(228.61,697.24) scale(0.744,1)" font-size="14.5" fill="#000" stroke="#000" stroke-width="0.25">150</text>
<text transform="translate(280.68,697.24) scale(0.744,1)" font-size="14.5" fill="#000" stroke="#000" stroke-width="0.25">3.05</text>
<text transform="translate(332.75,697.24) scale(0.744,1)" font-size="14.5" fill="#000" stroke="#000" stroke-width="0.25">1220</text>
<text transform="translate(384.82,697.24) scale(0.744,1)" font-size="14.5" fill="#000" stroke="#000" stroke-width="0.25">0</text>
<rect x="66.80" y="705.31" width="49.9" height="19.9" fill="#e8e8e8"/>
<rect x="118.87" y="705.31" width="49.9" height="19.9" fill="#e8e8e8"/>
<rect x="170.94" y="705.31" width="49.9" height="19.9" fill="#e8e8e8"/>
<rect x="223.01" y="705.31" width="49.9" height="19.9" fill="#e8e8e8"/>
<rect x="275.08" y="705.31" width="49.9" height="19.9" fill="#e8e8e8"/>
<rect x="327.15" y="705.31" width="49.9" height="19.9" fill="#e8e8e8"/>
<rect x="379.22" y="705.31" width="49.9" height="19.9" fill="#e8e8e8"/>
<text transform="translate(72.40,719.61) scale(0.744,1)" font-size="14.5" fill="#000" stroke="#000" stroke-width="0.25">2</text>
<text transform="translate(124.47,719.61) scale(0.744,1)" font-size="14.5" fill="#000" stroke="#000" stroke-width="0.25">57</text>
<text transform="translate(176.54,719.61) scale(0.744,1)" font-size="14.5" fill="#000" stroke="#000" stroke-width="0.25">2840</text>
<text transform="translate(228.61,719.61) scale(0.744,1)" font-size="14.5" fill="#000" stroke="#000" stroke-width="0.25">153</text>
<text transform="translate(280.68,719.61) scale(0.744,1)" font-size="14.5" fill="#000" stroke="#000" stroke-width="0.25">3.16</text>
<text transform="translate(332.75,719.61) scale(0.744,1)" font-size="14.5" fill="#000" stroke="#000" stroke-width="0.25">1010</text>
<text transform="translate(384.82,719.61) scale(0.744,1)" font-size="14.5" fill="#000" stroke="#000" stroke-width="0.25">170</text>
<rect x="66.80" y="727.68" width="49.9" height="19.9" fill="#e8e8e8"/>
<rect x="118.87" y="727.68" width="49.9" height="19.9" fill="#e8e8e8"/>
<rect x="170.94" y="727.68" width="49.9" height="19.9" fill="#e8e8e8"/>
<rect x="223.01" y="727.68" width="49.9" height="19.9" fill="#e8e8e8"/>
<rect x="275.08" y="727.68" width="49.9" height="19.9" fill="#e8e8e8"/>
<rect x="327.15" y="727.68" width="49.9" height="19.9" fill="#e8e8e8"/>
<rect x="379.22" y="727.68" width="49.9" height="19.9" fill="#e8e8e8"/>
<text transform="translate(72.40,741.98) scale(0.744,1)" font-size="14.5" fill="#000" stroke="#000" stroke-width="0.25">3</text>
<text transform="translate(124.47,741.98) scale(0.744,1)" font-size="14.5" fill="#000" stroke="#000" stroke-width="0.25">57</text>
<text transform="translate(176.54,741.98) scale(0.744,1)" font-size="14.5" fill="#000" stroke="#000" stroke-width="0.25">2855</text>
<text transform="translate(228.61,741.98) scale(0.744,1)" font-size="14.5" fill="#000" stroke="#000" stroke-width="0.25">152</text>
<text transform="translate(280.68,741.98) scale(0.744,1)" font-size="14.5" fill="#000" stroke="#000" stroke-width="0.25">3.14</text>
<text transform="translate(332.75,741.98) scale(0.744,1)" font-size="14.5" fill="#000" stroke="#000" stroke-width="0.25">815</text>
<text transform="translate(384.82,741.98) scale(0.744,1)" font-size="14.5" fill="#000" stroke="#000" stroke-width="0.25">343</text>
<rect x="66.80" y="750.05" width="49.9" height="19.9" fill="#e8e8e8"/>
<rect x="118.87" y="750.05" width="49.9" height="19.9" fill="#e8e8e8"/>
<rect x="170.94" y="750.05" width="49.9" height="19.9" fill="#e8e8e8"/>
<rect x="223.01" y="750.05" width="49.9" height="19.9" fill="#e8e8e8"/>
<rect x="275.08" y="750.05" width="49.9" height="19.9" fill="#e8e8e8"/>
<rect x="327.15" y="750.05" width="49.9" height="19.9" fill="#e8e8e8"/>
<rect x="379.22" y="750.05" width="49.9" height="19.9" fill="#e8e8e8"/>
<text transform="translate(72.40,764.35) scale(0.744,1)" font-size="14.5" fill="#000" stroke="#000" stroke-width="0.25">4</text>
<text transform="translate(124.47,764.35) scale(0.744,1)" font-size="14.5" fill="#000" stroke="#000" stroke-width="0.25">57</text>
<text transform="translate(176.54,764.35) scale(0.744,1)" font-size="14.5" fill="#000" stroke="#000" stroke-width="0.25">2955</text>
<text transform="translate(228.61,764.35) scale(0.744,1)" font-size="14.5" fill="#000" stroke="#000" stroke-width="0.25">150</text>
<text transform="translate(280.68,764.35) scale(0.744,1)" font-size="14.5" fill="#000" stroke="#000" stroke-width="0.25">3.06</text>
<text transform="translate(332.75,764.35) scale(0.744,1)" font-size="14.5" fill="#000" stroke="#000" stroke-width="0.25">505</text>
<text transform="translate(384.82,764.35) scale(0.744,1)" font-size="14.5" fill="#000" stroke="#000" stroke-width="0.25">520</text>
<rect x="66.80" y="772.42" width="49.9" height="19.9" fill="#e8e8e8"/>
<rect x="118.87" y="772.42" width="49.9" height="19.9" fill="#e8e8e8"/>
<rect x="170.94" y="772.42" width="49.9" height="19.9" fill="#e8e8e8"/>
<rect x="223.01" y="772.42" width="49.9" height="19.9" fill="#e8e8e8"/>
<rect x="275.08" y="772.42" width="49.9" height="19.9" fill="#e8e8e8"/>
<rect x="327.15" y="772.42" width="49.9" height="19.9" fill="#e8e8e8"/>
<rect x="379.22" y="772.42" width="49.9" height="19.9" fill="#e8e8e8"/>
<text transform="translate(72.40,786.72) scale(0.744,1)" font-size="14.5" fill="#000" stroke="#000" stroke-width="0.25">5</text>
<text transform="translate(124.47,786.72) scale(0.744,1)" font-size="14.5" fill="#000" stroke="#000" stroke-width="0.25">48</text>
<text transform="translate(176.54,786.72) scale(0.744,1)" font-size="14.5" fill="#000" stroke="#000" stroke-width="0.25">2700</text>
<text transform="translate(228.61,786.72) scale(0.744,1)" font-size="14.5" fill="#000" stroke="#000" stroke-width="0.25">115</text>
<text transform="translate(280.68,786.72) scale(0.744,1)" font-size="14.5" fill="#000" stroke="#000" stroke-width="0.25">2.70</text>
<text transform="translate(332.75,786.72) scale(0.744,1)" font-size="14.5" fill="#000" stroke="#000" stroke-width="0.25">1130</text>
<text transform="translate(384.82,786.72) scale(0.744,1)" font-size="14.5" fill="#000" stroke="#000" stroke-width="0.25">0</text>
<rect x="66.80" y="794.79" width="49.9" height="19.9" fill="#e8e8e8"/>
<rect x="118.87" y="794.79" width="49.9" height="19.9" fill="#e8e8e8"/>
<rect x="170.94" y="794.79" width="49.9" height="19.9" fill="#e8e8e8"/>
<rect x="223.01" y="794.79" width="49.9" height="19.9" fill="#e8e8e8"/>
<rect x="275.08" y="794.79" width="49.9" height="19.9" fill="#e8e8e8"/>
<rect x="327.15" y="794.79" width="49.9" height="19.9" fill="#e8e8e8"/>
<rect x="379.22" y="794.79" width="49.9" height="19.9" fill="#e8e8e8"/>
<text transform="translate(72.40,809.09) scale(0.744,1)" font-size="14.5" fill="#000" stroke="#000" stroke-width="0.25">6</text>
<text transform="translate(124.47,809.09) scale(0.744,1)" font-size="14.5" fill="#000" stroke="#000" stroke-width="0.25">48</text>
<text transform="translate(176.54,809.09) scale(0.744,1)" font-size="14.5" fill="#000" stroke="#000" stroke-width="0.25">2670</text>
<text transform="translate(228.61,809.09) scale(0.744,1)" font-size="14.5" fill="#000" stroke="#000" stroke-width="0.25">123</text>
<text transform="translate(280.68,809.09) scale(0.744,1)" font-size="14.5" fill="#000" stroke="#000" stroke-width="0.25">2.90</text>
<text transform="translate(332.75,809.09) scale(0.744,1)" font-size="14.5" fill="#000" stroke="#000" stroke-width="0.25">945</text>
<text transform="translate(384.82,809.09) scale(0.744,1)" font-size="14.5" fill="#000" stroke="#000" stroke-width="0.25">150</text>
<rect x="66.80" y="817.16" width="49.9" height="19.9" fill="#e8e8e8"/>
<rect x="118.87" y="817.16" width="49.9" height="19.9" fill="#e8e8e8"/>
<rect x="170.94" y="817.16" width="49.9" height="19.9" fill="#e8e8e8"/>
<rect x="223.01" y="817.16" width="49.9" height="19.9" fill="#e8e8e8"/>
<rect x="275.08" y="817.16" width="49.9" height="19.9" fill="#e8e8e8"/>
<rect x="327.15" y="817.16" width="49.9" height="19.9" fill="#e8e8e8"/>
<rect x="379.22" y="817.16" width="49.9" height="19.9" fill="#e8e8e8"/>
<text transform="translate(72.40,831.46) scale(0.744,1)" font-size="14.5" fill="#000" stroke="#000" stroke-width="0.25">7</text>
<text transform="translate(124.47,831.46) scale(0.744,1)" font-size="14.5" fill="#000" stroke="#000" stroke-width="0.25">48</text>
<text transform="translate(176.54,831.46) scale(0.744,1)" font-size="14.5" fill="#000" stroke="#000" stroke-width="0.25">2685</text>
<text transform="translate(228.61,831.46) scale(0.744,1)" font-size="14.5" fill="#000" stroke="#000" stroke-width="0.25">123</text>
<text transform="translate(280.68,831.46) scale(0.744,1)" font-size="14.5" fill="#000" stroke="#000" stroke-width="0.25">2.89</text>
<text transform="translate(332.75,831.46) scale(0.744,1)" font-size="14.5" fill="#000" stroke="#000" stroke-width="0.25">765</text>
<text transform="translate(384.82,831.46) scale(0.744,1)" font-size="14.5" fill="#000" stroke="#000" stroke-width="0.25">300</text>
<rect x="66.80" y="839.53" width="49.9" height="19.9" fill="#e8e8e8"/>
<rect x="118.87" y="839.53" width="49.9" height="19.9" fill="#e8e8e8"/>
<rect x="170.94" y="839.53" width="49.9" height="19.9" fill="#e8e8e8"/>
<rect x="223.01" y="839.53" width="49.9" height="19.9" fill="#e8e8e8"/>
<rect x="275.08" y="839.53" width="49.9" height="19.9" fill="#e8e8e8"/>
<rect x="327.15" y="839.53" width="49.9" height="19.9" fill="#e8e8e8"/>
<rect x="379.22" y="839.53" width="49.9" height="19.9" fill="#e8e8e8"/>
<text transform="translate(72.40,853.83) scale(0.744,1)" font-size="14.5" fill="#000" stroke="#000" stroke-width="0.25">8</text>
<text transform="translate(124.47,853.83) scale(0.744,1)" font-size="14.5" fill="#000" stroke="#000" stroke-width="0.25">48</text>
<text transform="translate(176.54,853.83) scale(0.744,1)" font-size="14.5" fill="#000" stroke="#000" stroke-width="0.25">2750</text>
<text transform="translate(228.61,853.83) scale(0.744,1)" font-size="14.5" fill="#000" stroke="#000" stroke-width="0.25">120</text>
<text transform="translate(280.68,853.83) scale(0.744,1)" font-size="14.5" fill="#000" stroke="#000" stroke-width="0.25">2.81</text>
<text transform="translate(332.75,853.83) scale(0.744,1)" font-size="14.5" fill="#000" stroke="#000" stroke-width="0.25">470</text>
<text transform="translate(384.82,853.83) scale(0.744,1)" font-size="14.5" fill="#000" stroke="#000" stroke-width="0.25">450</text>
<rect x="66.80" y="861.90" width="49.9" height="19.9" fill="#e8e8e8"/>
<rect x="118.87" y="861.90" width="49.9" height="19.9" fill="#e8e8e8"/>
<rect x="170.94" y="861.90" width="49.9" height="19.9" fill="#e8e8e8"/>
<rect x="223.01" y="861.90" width="49.9" height="19.9" fill="#e8e8e8"/>
<rect x="275.08" y="861.90" width="49.9" height="19.9" fill="#e8e8e8"/>
<rect x="327.15" y="861.90" width="49.9" height="19.9" fill="#e8e8e8"/>
<rect x="379.22" y="861.90" width="49.9" height="19.9" fill="#e8e8e8"/>
<text transform="translate(72.40,876.20) scale(0.744,1)" font-size="14.5" fill="#000" stroke="#000" stroke-width="0.25">9</text>
<text transform="translate(124.47,876.20) scale(0.744,1)" font-size="14.5" fill="#000" stroke="#000" stroke-width="0.25">36</text>
<text transform="translate(176.54,876.20) scale(0.744,1)" font-size="14.5" fill="#000" stroke="#000" stroke-width="0.25">2310</text>
<text transform="translate(228.61,876.20) scale(0.744,1)" font-size="14.5" fill="#000" stroke="#000" stroke-width="0.25">70</text>
<text transform="translate(280.68,876.20) scale(0.744,1)" font-size="14.5" fill="#000" stroke="#000" stroke-width="0.25">2.19</text>
<text transform="translate(332.75,876.20) scale(0.744,1)" font-size="14.5" fill="#000" stroke="#000" stroke-width="0.25">940</text>
<text transform="translate(384.82,876.20) scale(0.744,1)" font-size="14.5" fill="#000" stroke="#000" stroke-width="0.25">0</text>
<rect x="66.80" y="884.27" width="49.9" height="19.9" fill="#e8e8e8"/>
<rect x="118.87" y="884.27" width="49.9" height="19.9" fill="#e8e8e8"/>
<rect x="170.94" y="884.27" width="49.9" height="19.9" fill="#e8e8e8"/>
<rect x="223.01" y="884.27" width="49.9" height="19.9" fill="#e8e8e8"/>
<rect x="275.08" y="884.27" width="49.9" height="19.9" fill="#e8e8e8"/>
<rect x="327.15" y="884.27" width="49.9" height="19.9" fill="#e8e8e8"/>
<rect x="379.22" y="884.27" width="49.9" height="19.9" fill="#e8e8e8"/>
<text transform="translate(72.40,898.57) scale(0.744,1)" font-size="14.5" fill="#000" stroke="#000" stroke-width="0.25">10</text>
<text transform="translate(124.47,898.57) scale(0.744,1)" font-size="14.5" fill="#000" stroke="#000" stroke-width="0.25">36</text>
<text transform="translate(176.54,898.57) scale(0.744,1)" font-size="14.5" fill="#000" stroke="#000" stroke-width="0.25">2245</text>
<text transform="translate(228.61,898.57) scale(0.744,1)" font-size="14.5" fill="#000" stroke="#000" stroke-width="0.25">75</text>
<text transform="translate(280.68,898.57) scale(0.744,1)" font-size="14.5" fill="#000" stroke="#000" stroke-width="0.25">2.34</text>
<text transform="translate(332.75,898.57) scale(0.744,1)" font-size="14.5" fill="#000" stroke="#000" stroke-width="0.25">795</text>
<text transform="translate(384.82,898.57) scale(0.744,1)" font-size="14.5" fill="#000" stroke="#000" stroke-width="0.25">106</text>
<rect x="66.80" y="906.64" width="49.9" height="19.9" fill="#e8e8e8"/>
<rect x="118.87" y="906.64" width="49.9" height="19.9" fill="#e8e8e8"/>
<rect x="170.94" y="906.64" width="49.9" height="19.9" fill="#e8e8e8"/>
<rect x="223.01" y="906.64" width="49.9" height="19.9" fill="#e8e8e8"/>
<rect x="275.08" y="906.64" width="49.9" height="19.9" fill="#e8e8e8"/>
<rect x="327.15" y="906.64" width="49.9" height="19.9" fill="#e8e8e8"/>
<rect x="379.22" y="906.64" width="49.9" height="19.9" fill="#e8e8e8"/>
<text transform="translate(72.40,920.94) scale(0.744,1)" font-size="14.5" fill="#000" stroke="#000" stroke-width="0.25">11</text>
<text transform="translate(124.47,920.94) scale(0.744,1)" font-size="14.5" fill="#000" stroke="#000" stroke-width="0.25">36</text>
<text transform="translate(176.54,920.94) scale(0.744,1)" font-size="14.5" fill="#000" stroke="#000" stroke-width="0.25">2260</text>
<text transform="translate(228.61,920.94) scale(0.744,1)" font-size="14.5" fill="#000" stroke="#000" stroke-width="0.25">74</text>
<text transform="translate(280.68,920.94) scale(0.744,1)" font-size="14.5" fill="#000" stroke="#000" stroke-width="0.25">2.30</text>
<text transform="translate(332.75,920.94) scale(0.744,1)" font-size="14.5" fill="#000" stroke="#000" stroke-width="0.25">645</text>
<text transform="translate(384.82,920.94) scale(0.744,1)" font-size="14.5" fill="#000" stroke="#000" stroke-width="0.25">215</text>
<rect x="66.80" y="929.01" width="49.9" height="19.9" fill="#e8e8e8"/>
<rect x="118.87" y="929.01" width="49.9" height="19.9" fill="#e8e8e8"/>
<rect x="170.94" y="929.01" width="49.9" height="19.9" fill="#e8e8e8"/>
<rect x="223.01" y="929.01" width="49.9" height="19.9" fill="#e8e8e8"/>
<rect x="275.08" y="929.01" width="49.9" height="19.9" fill="#e8e8e8"/>
<rect x="327.15" y="929.01" width="49.9" height="19.9" fill="#e8e8e8"/>
<rect x="379.22" y="929.01" width="49.9" height="19.9" fill="#e8e8e8"/>
<text transform="translate(72.40,943.31) scale(0.744,1)" font-size="14.5" fill="#000" stroke="#000" stroke-width="0.25">12</text>
<text transform="translate(124.47,943.31) scale(0.744,1)" font-size="14.5" fill="#000" stroke="#000" stroke-width="0.25">36</text>
<text transform="translate(176.54,943.31) scale(0.744,1)" font-size="14.5" fill="#000" stroke="#000" stroke-width="0.25">2300</text>
<text transform="translate(228.61,943.31) scale(0.744,1)" font-size="14.5" fill="#000" stroke="#000" stroke-width="0.25">71</text>
<text transform="translate(280.68,943.31) scale(0.744,1)" font-size="14.5" fill="#000" stroke="#000" stroke-width="0.25">2.21</text>
<text transform="translate(332.75,943.31) scale(0.744,1)" font-size="14.5" fill="#000" stroke="#000" stroke-width="0.25">390</text>
<text transform="translate(384.82,943.31) scale(0.744,1)" font-size="14.5" fill="#000" stroke="#000" stroke-width="0.25">315</text>
<text transform="translate(71.8,962.2) scale(0.829,1)" font-size="10" fill="#000" stroke="#000" stroke-width="0.2">U = Supply voltage · n = Speed · P<tspan font-size="7" dy="2">ed</tspan><tspan dy="-2"> = Power input · I = Current draw · qv = Air flow · p</tspan><tspan font-size="7" dy="2">fs</tspan><tspan dy="-2"> = Pressure increase</tspan></text>
</svg></body></html>
